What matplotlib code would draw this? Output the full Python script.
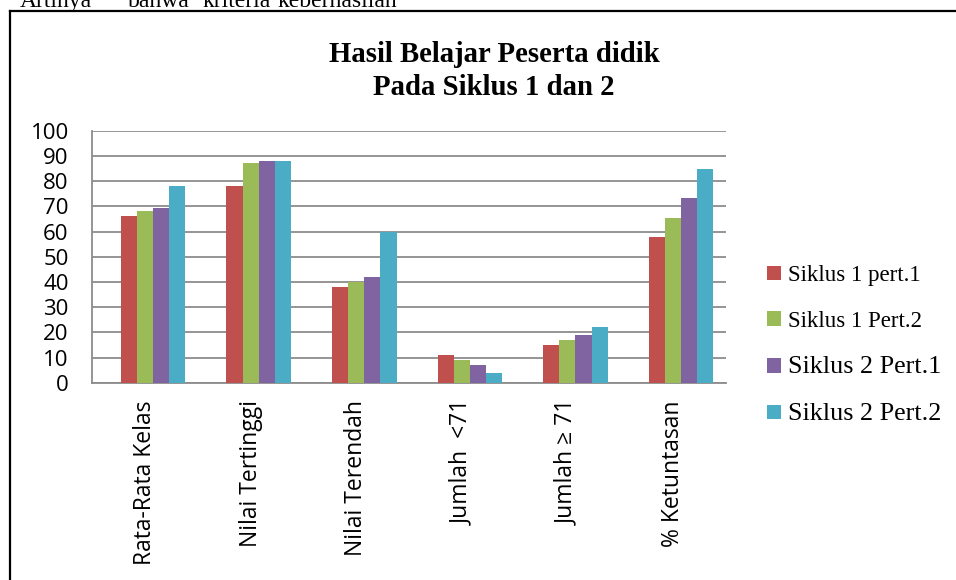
import matplotlib
matplotlib.use("Agg")
import matplotlib.pyplot as plt
from matplotlib.lines import Line2D
import numpy as np

# 数据
kategori = ["Rata-Rata Kelas", "Nilai Tertinggi", "Nilai Terendah",
            "Jumlah  <71", "Jumlah \u2265 71", "% Ketuntasan"]
siklus1_pert1 = [66, 78, 38, 11, 15, 57.7]
siklus1_pert2 = [68, 87, 40, 9, 17, 65.3]
siklus2_pert1 = [69.3, 88, 42, 7, 19, 73.1]
siklus2_pert2 = [78.2, 88, 60, 3.8, 22, 84.7]
nama_seri = ["Siklus 1 pert.1", "Siklus 1 Pert.2", "Siklus 2 Pert.1", "Siklus 2 Pert.2"]
warna = ["#C0504D", "#9BBB59", "#8064A2", "#4BACC6"]
y_ticks = list(range(0, 101, 10))

W, H = 956, 580
fig = plt.figure(figsize=(W / 100, H / 100), dpi=100)
fig.patch.set_facecolor("white")

# 坐标区域 (像素换算)
left, right, top, bottom = 92.3, 725.7, 130.7, 382.7
ax = fig.add_axes([left / W, 1 - bottom / H, (right - left) / W, (bottom - top) / H])

x = np.arange(len(kategori))
lebar = 0.153
semua = [siklus1_pert1, siklus1_pert2, siklus2_pert1, siklus2_pert2]
bars = []
for i, (vals, c, nm) in enumerate(zip(semua, warna, nama_seri)):
    # Excel 里有一个空系列占第一个位置, 所以整组往右偏
    b = ax.bar(x + (i - 1) * lebar, vals, width=lebar, color=c, label=nm,
               edgecolor="none", zorder=3)
    bars.append(b)

ax.set_xlim(-0.5, len(kategori) - 0.5)
ax.set_ylim(0, 100)
ax.set_yticks(y_ticks)
ax.set_yticklabels([str(v) for v in y_ticks], family="Open Sans", fontsize=16)
ax.set_xticks(x)
ax.set_xticklabels(kategori, rotation=90, family="Open Sans", fontsize=16.5)
ax.tick_params(axis="y", length=0, pad=17)
ax.tick_params(axis="x", length=0, pad=12.5)

ax.yaxis.grid(True, color="#8c8c8c", linewidth=1.3, zorder=0)
ax.set_axisbelow(True)
for s in ["top", "right"]:
    ax.spines[s].set_visible(False)
for s in ["left", "bottom"]:
    ax.spines[s].set_color("#8c8c8c")
    ax.spines[s].set_linewidth(1.3)

# 标题
fig.text(494 / W, 1 - 71 / H, "Hasil Belajar Peserta didik\nPada Siklus 1 dan 2",
         ha="center", va="center", family="Liberation Serif", fontweight="bold",
         fontsize=20.7, linespacing=1.25)

# 图例
leg = fig.legend(handles=bars, labels=nama_seri, loc="center left",
                 bbox_to_anchor=(767 / W, 1 - 345 / H), frameon=False,
                 prop={"family": "Liberation Serif", "size": 16.5},
                 handlelength=0.6, handleheight=0.6, handletextpad=0.3,
                 labelspacing=1.08, borderpad=0, borderaxespad=0)
for t in leg.get_texts()[2:]:
    t.set_fontsize(18.8)

# 上面被截掉的正文
kata = ["Artinya", "bahwa", "kriteria", "keberhasilan"]
kata_x = [20, 128, 203, 278]
for k, kx in zip(kata, kata_x):
    fig.text(kx / W, 1 - 7 / H, k, ha="left", va="baseline",
             family="Liberation Serif", fontsize=17)

# 外框
fig.add_artist(Line2D([10 / W, 10 / W], [1 - 11 / H, 0], transform=fig.transFigure,
                      color="black", linewidth=1.6))
fig.add_artist(Line2D([10 / W, 1], [1 - 11 / H, 1 - 11 / H], transform=fig.transFigure,
                      color="black", linewidth=1.6))

fig.savefig("out.png", dpi=100)
